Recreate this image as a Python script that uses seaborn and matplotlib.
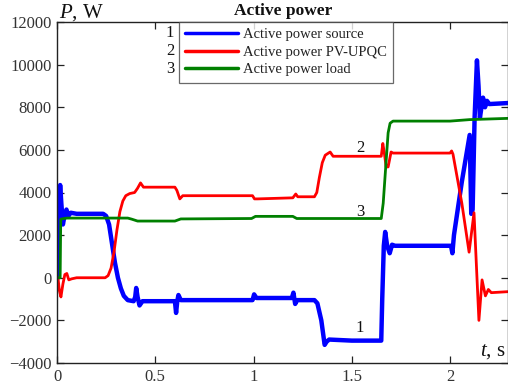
import numpy as np
import pandas as pd
import seaborn as sns
import matplotlib
matplotlib.use("Agg")
import matplotlib.pyplot as plt

# ---------------- data ----------------
t_source = [0, 0.004, 0.010, 0.016, 0.022, 0.030, 0.038, 0.048, 0.058, 0.070, 0.10,
            0.235, 0.25, 0.265, 0.28, 0.295, 0.31, 0.325, 0.34, 0.36, 0.39, 0.398, 0.403,
            0.41, 0.42, 0.435, 0.60, 0.606, 0.612, 0.618, 0.63, 0.995, 1.003, 1.015,
            1.195, 1.203, 1.212, 1.222, 1.31, 1.325, 1.345, 1.362, 1.372, 1.385, 1.50,
            1.65, 1.655, 1.663, 1.67, 1.68, 1.693, 1.705, 1.72, 1.99, 2.005, 2.012, 2.02,
            2.06, 2.10, 2.108, 2.115, 2.125, 2.137, 2.145, 2.152, 2.16, 2.168, 2.178,
            2.188, 2.20, 2.30]
p_source = [1600, 0, 3000, 4350, 3500, 2500, 2900, 3200, 2900, 3050, 3000,
            3000, 2900, 2500, 1600, 700, 0, -500, -850, -1050, -1100, -900, -480,
            -900, -1300, -1100, -1100, -1650, -1100, -810, -1050, -1050, -780, -950,
            -950, -700, -1230, -1050, -1050, -1200, -2000, -3150, -3000, -2900, -2950,
            -2950, -1000, 1500, 2150, 1500, 1150, 1550, 1500, 1500, 1500, 1150, 2000,
            4500, 6700, 3000, 3200, 7500, 10200, 9000, 7500, 8000, 8450, 8000,
            8300, 8150, 8200]

t_pvupqc = [0, 0.005, 0.012, 0.020, 0.030, 0.040, 0.050, 0.060, 0.075, 0.10, 0.245,
            0.26, 0.275, 0.29, 0.305, 0.32, 0.335, 0.35, 0.37, 0.395, 0.41, 0.425,
            0.44, 0.60, 0.61, 0.625, 0.64, 0.995, 1.005, 1.02, 1.20, 1.215, 1.225,
            1.31, 1.322, 1.335, 1.35, 1.365, 1.39, 1.405, 1.65, 1.658, 1.665, 1.675,
            1.685, 1.70, 1.71, 2.00, 2.008, 2.015, 2.06, 2.097, 2.122, 2.147, 2.163,
            2.18, 2.195, 2.21, 2.30]
p_pvupqc = [0, 0, -600, -900, -300, 150, 200, -100, -50, 0, 0,
            100, 450, 1200, 2240, 3100, 3600, 3850, 3950, 4000, 4200, 4450,
            4250, 4250, 4100, 3700, 3850, 3850, 3700, 3700, 3750, 3930, 3800,
            3800, 4000, 4700, 5400, 5750, 5900, 5700, 5700, 6300, 5900, 5200,
            5200, 5900, 5850, 5850, 5950, 5800, 3500, 1200, 3050, -2000, -100,
            -850, -550, -700, -650]

t_load = [0, 0.016, 0.019, 0.05, 0.36, 0.38, 0.41, 0.60, 0.63, 0.99, 1.01, 1.20,
          1.22, 1.65, 1.66, 1.675, 1.685, 1.695, 1.71, 2.00, 2.10, 2.30]
p_load = [0, 0, 2750, 2800, 2800, 2750, 2660, 2660, 2760, 2780, 2880, 2880,
          2780, 2780, 3500, 5500, 6800, 7250, 7350, 7350, 7420, 7480]

series_names = ["Active power source", "Active power PV-UPQC", "Active power load"]
series_numbers = ["1", "2", "3"]
colors = ["#0000ff", "#ff0000", "#008000"]
x_ticks = [0, 0.5, 1, 1.5, 2]
x_tick_labels = ["0", "0.5", "1", "1.5", "2"]
y_ticks = list(range(-4000, 12001, 2000))

# ---------------- style ----------------
sns.set_style("ticks")
plt.rcParams["font.family"] = ["Liberation Serif", "DejaVu Serif"]
plt.rcParams["mathtext.fontset"] = "custom"
plt.rcParams["mathtext.rm"] = "Liberation Serif"
plt.rcParams["mathtext.it"] = "Liberation Serif:italic"

fig = plt.figure(figsize=(5.08, 3.88), dpi=100)
ax = fig.add_axes([57 / 508, 1 - 363 / 388, 451 / 508, 341 / 388])

data = [(t_source, p_source), (t_pvupqc, p_pvupqc), (t_load, p_load)]
widths = [3.2, 2.0, 2.0]
handles = []
for (tt, pp), name, c, lw in zip(data, series_names, colors, widths):
    df = pd.DataFrame({"t": tt, "P": pp})
    sns.lineplot(data=df, x="t", y="P", ax=ax, color=c, lw=lw, sort=False,
                 estimator=None, label=name)
    handles.append(ax.lines[-1])

ax.set_xlim(0, 2.295)
ax.set_ylim(-4000, 12000)
ax.set_xticks(x_ticks)
ax.set_xticklabels(x_tick_labels)
ax.set_yticks(y_ticks)
ax.set_xlabel("")
ax.set_ylabel("")
ax.tick_params(direction="in", length=5, width=0.9, top=True, right=True,
               labelsize=12, labelcolor="#333333", color="#222222", pad=4)
for s in ax.spines.values():
    s.set_color("#222222")
    s.set_linewidth(1.0)

leg = ax.legend(handles, series_names, loc="upper left",
                bbox_to_anchor=(0.2705, 1.0), borderaxespad=0, fancybox=False,
                frameon=True, edgecolor="#444444", handlelength=3.6,
                handletextpad=0.4, labelspacing=0.3, borderpad=0.42,
                prop={"family": "Liberation Serif", "size": 10.5})
leg.get_frame().set_linewidth(0.9)
for line in leg.get_lines():
    line.set_linewidth(2.5)
for txt in leg.get_texts():
    txt.set_color("#222222")

row_y = [(363 - 33) / 341, (363 - 51) / 341, (363 - 69) / 341]
for num, yy in zip(series_numbers, row_y):
    ax.text((170 - 57) / 451, yy, num, transform=ax.transAxes, ha="center",
            va="center", fontsize=12, color="#111111")

# curve labels inside the plot
ax.text(1.542, -2350, "1", ha="center", va="center", fontsize=12, color="#111111")
ax.text(1.542, 6100, "2", ha="center", va="center", fontsize=12, color="#111111")
ax.text(1.542, 3100, "3", ha="center", va="center", fontsize=12, color="#111111")

fig.text(283 / 508, 1 - 11 / 388, "Active power", ha="center", va="center",
         fontsize=12.5, fontweight="bold", color="#111111")
fig.text(59 / 508, 1 - 13 / 388, "$P$, W", ha="left", va="center",
         fontsize=15, color="#111111")
ax.text(2.285, -3480, "$t$, s", ha="right", va="center", fontsize=15, color="#111111")

fig.savefig("out.png", dpi=100)
